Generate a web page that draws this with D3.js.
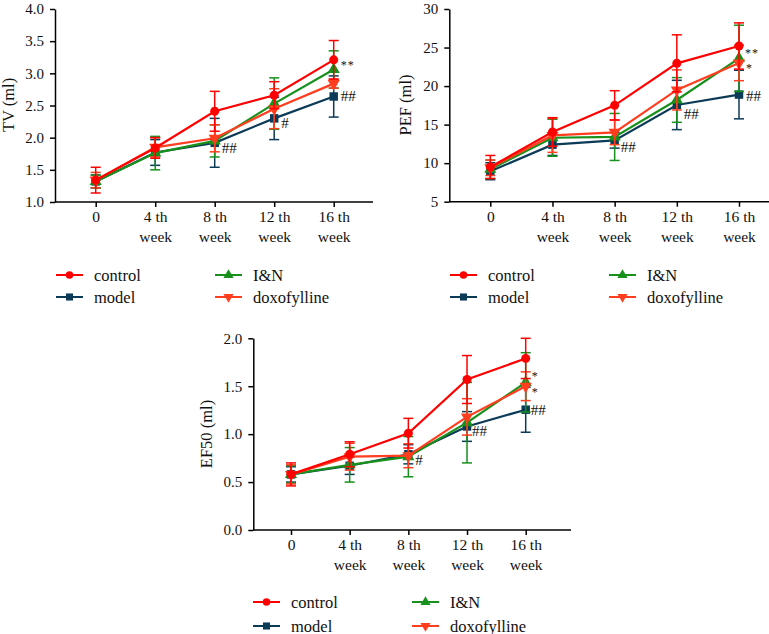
<!DOCTYPE html>
<html>
<head>
<meta charset="utf-8">
<script src="https://cdn.jsdelivr.net/npm/d3@7"></script>
<style>
  html, body { margin: 0; padding: 0; background: #fff; }
  svg { display: block; font-family: "Liberation Serif", "Times New Roman", serif; }
</style>
</head>
<body>
<svg id="chart" width="769" height="634"></svg>
<script>
// ---------- data ----------
const categories = ["0", "4 th", "8 th", "12 th", "16 th"];
const categorySub = ["", "week", "week", "week", "week"];
const seriesNames = ["control", "model", "I&N", "doxofylline"];
const seriesColors = ["#ff0000", "#0c3b58", "#17901c", "#ff3d1f"];

// TV (ml)
const tvControl = [1.34, 1.84, 2.41, 2.66, 3.21];
const tvControlSD = [0.20, 0.16, 0.31, 0.21, 0.30];
const tvModel = [1.32, 1.77, 1.92, 2.30, 2.64];
const tvModelSD = [0.10, 0.20, 0.38, 0.33, 0.32];
const tvIN = [1.32, 1.76, 1.95, 2.53, 3.06];
const tvINSD = [0.10, 0.26, 0.25, 0.40, 0.29];
const tvDoxo = [1.34, 1.85, 1.99, 2.45, 2.84];
const tvDoxoSD = [0.12, 0.15, 0.21, 0.31, 0.07];
const tvTicks = [1.0, 1.5, 2.0, 2.5, 3.0, 3.5, 4.0];

// PEF (ml)
const pefControl = [9.5, 14.05, 17.5, 22.95, 25.2];
const pefControlSD = [1.5, 1.85, 1.9, 3.7, 3.0];
const pefModel = [8.95, 12.4, 12.95, 17.55, 18.9];
const pefModelSD = [1.1, 1.4, 1.0, 3.2, 3.15];
const pefIN = [9.2, 13.3, 13.4, 18.2, 23.6];
const pefINSD = [1.2, 2.4, 3.05, 2.9, 4.3];
const pefDoxo = [9.4, 13.6, 14.0, 19.5, 23.0];
const pefDoxoSD = [1.0, 2.2, 1.6, 2.6, 2.3];
const pefTicks = [5, 10, 15, 20, 25, 30];

// EF50 (ml)
const efControl = [0.58, 0.79, 1.01, 1.57, 1.79];
const efControlSD = [0.12, 0.13, 0.155, 0.25, 0.21];
const efModel = [0.58, 0.67, 0.79, 1.08, 1.255];
const efModelSD = [0.08, 0.09, 0.10, 0.155, 0.235];
const efIN = [0.58, 0.68, 0.765, 1.12, 1.54];
const efINSD = [0.09, 0.18, 0.21, 0.42, 0.31];
const efDoxo = [0.58, 0.765, 0.775, 1.18, 1.50];
const efDoxoSD = [0.10, 0.14, 0.125, 0.19, 0.15];
const efTicks = [0.0, 0.5, 1.0, 1.5, 2.0];

// significance marks: [category index, series index, text]
const tvMarks = [[4, 2, "**"], [4, 1, "##"], [3, 1, "#"], [2, 1, "##"]];
const pefMarks = [[4, 2, "**"], [4, 3, "*"], [4, 1, "##"], [3, 1, "##"], [2, 1, "##"]];
const efMarks = [[4, 2, "*"], [4, 3, "*"], [4, 1, "##"], [3, 1, "##"], [2, 1, "#"]];

// ---------- layout ----------
const panels = [
  { label: "TV (ml)", means: [tvControl, tvModel, tvIN, tvDoxo], sds: [tvControlSD, tvModelSD, tvINSD, tvDoxoSD],
    ticks: tvTicks, fmt: d3.format(".1f"), marks: tvMarks,
    axisX: 55, xEnd: 373, yBottom: 202, yTop: 9, xFirst: 95.7, xLast: 333.7,
    labelX: 14, labelY: 105, legX: 56, legY: 275, legCol: 159, legRow: 22 },
  { label: "PEF (ml)", means: [pefControl, pefModel, pefIN, pefDoxo], sds: [pefControlSD, pefModelSD, pefINSD, pefDoxoSD],
    ticks: pefTicks, fmt: d3.format("d"), marks: pefMarks,
    axisX: 449.3, xEnd: 780, yBottom: 201.7, yTop: 9, xFirst: 490.3, xLast: 739,
    labelX: 411, labelY: 105, legX: 450, legY: 275, legCol: 159, legRow: 22 },
  { label: "EF50 (ml)", means: [efControl, efModel, efIN, efDoxo], sds: [efControlSD, efModelSD, efINSD, efDoxoSD],
    ticks: efTicks, fmt: d3.format(".1f"), marks: efMarks,
    axisX: 253.3, xEnd: 571, yBottom: 530, yTop: 338.3, xFirst: 291, xLast: 525.7,
    labelX: 212, labelY: 434, legX: 253, legY: 602, legCol: 159, legRow: 24 }
];

const markOffsets = {
  "0": [[7, -4], [7, 0], [7, 5], [7, 5]],
  "1": [[6, -5], [7, 5], [7, 1], [7, 9], [6, 7]],
  "2": [[6, -6], [6, 6], [5, 0], [5, 5], [7, 6]]
};

const symbols = [d3.symbolCircle, d3.symbolSquare, d3.symbolTriangle, d3.symbolTriangle];
const symbolSizes = [64, 72, 64, 64];
const symbolRot = [0, 0, 0, 180];
const drawOrder = [1, 2, 3, 0];
const FONT = "Liberation Serif";

const svg = d3.select("#chart");

panels.forEach((p, pi) => {
  const g = svg.append("g");
  const x = d3.scalePoint().domain(categories).range([p.xFirst, p.xLast]);
  const y = d3.scaleLinear().domain([p.ticks[0], p.ticks[p.ticks.length - 1]]).range([p.yBottom, p.yTop]);

  // y axis
  const ya = g.append("g").attr("transform", `translate(${p.axisX},0)`)
    .call(d3.axisLeft(y).tickValues(p.ticks).tickFormat(p.fmt).tickSize(5).tickSizeOuter(0).tickPadding(6));
  ya.selectAll("path, line").attr("stroke", "#000").attr("stroke-width", 1.5);
  ya.selectAll("text").attr("font-size", 15).attr("font-family", FONT).attr("fill", "#111");

  // x axis
  const xa = g.append("g").attr("transform", `translate(0,${p.yBottom})`)
    .call(d3.axisBottom(x).tickSize(5).tickSizeOuter(0).tickPadding(4));
  xa.select(".domain").remove();
  xa.append("line").attr("x1", p.axisX).attr("x2", p.xEnd).attr("y1", 0).attr("y2", 0);
  xa.selectAll("line").attr("stroke", "#000").attr("stroke-width", 1.5);
  xa.selectAll(".tick text").each(function (d) {
    const t = d3.select(this);
    t.text(null).attr("font-size", 15.5).attr("font-family", FONT).attr("fill", "#111");
    t.append("tspan").attr("x", 0).attr("dy", "0.71em").text(d);
    const sub = categorySub[categories.indexOf(d)];
    if (sub) t.append("tspan").attr("x", 0).attr("dy", "1.28em").text(sub);
  });

  // y label
  g.append("text")
    .attr("transform", `translate(${p.labelX},${p.labelY}) rotate(-90)`)
    .attr("text-anchor", "middle").attr("font-size", 16.5).attr("font-family", FONT).attr("fill", "#111")
    .text(p.label);

  // series
  drawOrder.forEach(si => {
    const m = p.means[si], sd = p.sds[si], c = seriesColors[si];
    const sg = g.append("g");
    categories.forEach((cat, ci) => {
      const cx = x(cat), y1 = y(m[ci] + sd[ci]), y2 = y(m[ci] - sd[ci]);
      sg.append("line").attr("x1", cx).attr("x2", cx).attr("y1", y1).attr("y2", y2)
        .attr("stroke", c).attr("stroke-width", 1.5);
      [y1, y2].forEach(yy => sg.append("line").attr("x1", cx - 5).attr("x2", cx + 5).attr("y1", yy).attr("y2", yy)
        .attr("stroke", c).attr("stroke-width", 1.5));
    });
    sg.append("path").datum(m)
      .attr("d", d3.line().x((d, i) => x(categories[i])).y(d => y(d)))
      .attr("fill", "none").attr("stroke", c).attr("stroke-width", 2.2);
    sg.selectAll(".mk").data(m).enter().append("path")
      .attr("d", d3.symbol().type(symbols[si]).size(symbolSizes[si]))
      .attr("transform", (d, i) => `translate(${x(categories[i])},${y(d)}) rotate(${symbolRot[si]})`)
      .attr("fill", c);
  });

  // significance marks
  p.marks.forEach((mk, k) => {
    const [ci, si, txt] = mk;
    const off = markOffsets[pi][k];
    const star = txt.includes("*");
    g.append("text")
      .attr("x", x(categories[ci]) + off[0])
      .attr("y", y(p.means[si][ci]) + off[1] + (star ? 4 : 0))
      .attr("dominant-baseline", star ? "auto" : "central")
      .attr("font-size", star ? 12 : 15)
      .attr("font-family", FONT)
      .attr("letter-spacing", star ? 1 : 0)
      .attr("fill", "#111")
      .text(txt);
  });

  // legend (2 columns: control/model, I&N/doxofylline)
  const lg = g.append("g");
  seriesNames.forEach((name, si) => {
    const col = si < 2 ? 0 : 1, row = si % 2;
    const lx = p.legX + col * p.legCol, ly = p.legY + row * p.legRow;
    lg.append("line").attr("x1", lx).attr("x2", lx + 27).attr("y1", ly).attr("y2", ly)
      .attr("stroke", seriesColors[si]).attr("stroke-width", 2);
    lg.append("path").attr("d", d3.symbol().type(symbols[si]).size(symbolSizes[si] * 0.7))
      .attr("transform", `translate(${lx + 13.5},${ly}) rotate(${symbolRot[si]})`)
      .attr("fill", seriesColors[si]);
    lg.append("text").attr("x", lx + 38).attr("y", ly).attr("dominant-baseline", "central")
      .attr("font-size", 16.5).attr("font-family", FONT).attr("fill", "#111").text(name);
  });
});
</script>
</body>
</html>
